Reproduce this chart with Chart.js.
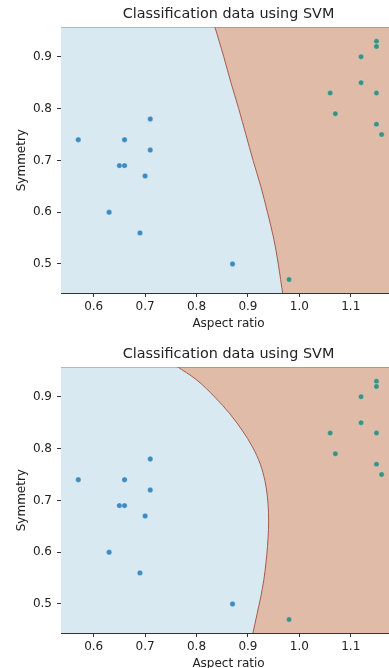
<!DOCTYPE html>
<html>
<head>
<meta charset="utf-8">
<script src="https://cdn.jsdelivr.net/npm/chart.js@4"></script>
<style>
  html, body { margin: 0; padding: 0; background: #ffffff; overflow: hidden; width: 389px; height: 668px; }
  .wrap { position: absolute; left: 0; width: 457px; height: 340px; }
  #w1 { top: 0; }
  #w2 { top: 340px; }
</style>
</head>
<body>
<div class="wrap" id="w1"><canvas id="c1" width="457" height="340"></canvas></div>
<div class="wrap" id="w2"><canvas id="c2" width="457" height="340"></canvas></div>
<script>
// ---- Data ----
const chartTitle = 'Classification data using SVM';
const xLabel = 'Aspect ratio';
const yLabel = 'Symmetry';

// class 0 (blue)
const class0X = [0.57, 0.66, 0.71, 0.71, 0.65, 0.66, 0.70, 0.63, 0.69, 0.87];
const class0Y = [0.74, 0.74, 0.78, 0.72, 0.69, 0.69, 0.67, 0.60, 0.56, 0.50];
// class 1 (green)
const class1X = [1.15, 1.15, 1.12, 1.12, 1.06, 1.15, 1.07, 1.15, 1.16, 0.98];
const class1Y = [0.93, 0.92, 0.90, 0.85, 0.83, 0.83, 0.79, 0.77, 0.75, 0.47];

// decision boundary, top panel
const boundary1Y = [0.440, 0.500, 0.550, 0.600, 0.650, 0.700, 0.750, 0.800, 0.850, 0.900, 0.960];
const boundary1X = [0.968, 0.959, 0.950, 0.938, 0.925, 0.910, 0.896, 0.882, 0.867, 0.853, 0.835];

// decision boundary, bottom panel
const boundary2Y = [0.440, 0.482, 0.514, 0.547, 0.579, 0.611, 0.644, 0.676, 0.706, 0.738, 0.770, 0.803, 0.835, 0.867, 0.899, 0.932, 0.960];
const boundary2X = [0.909, 0.918, 0.925, 0.931, 0.935, 0.938, 0.940, 0.940, 0.938, 0.933, 0.924, 0.909, 0.889, 0.865, 0.836, 0.801, 0.760];

// axis limits
const X_MIN = 0.5364, X_MAX = 1.188;
const Y_MIN = 0.444, Y_MAX = 0.957;

// ---- Styles ----
const BLUE_BG = '#d9e9f2';
const TAN_BG = '#dfbba8';
const BOUNDARY = '#a45a50';
const BLUE_PT = '#3a8cc3';
const GREEN_PT = '#3d9180';
const AXIS = '#333333';
const TEXT = '#222222';

Chart.defaults.font.family = "'DejaVu Sans', sans-serif";

function pts(xs, ys) { return xs.map((x, i) => ({x: x, y: ys[i]})); }

function makeChart(id, bx, by) {
  const boundary = pts(bx, by);
  return new Chart(document.getElementById(id), {
    type: 'line',
    data: {
      datasets: [
        { data: pts(class0X, class0Y), showLine: false, pointRadius: 2.7, pointBackgroundColor: BLUE_PT,
          pointBorderColor: 'rgba(255,255,255,0.55)', pointBorderWidth: 0.5, fill: false },
        { data: pts(class1X, class1Y), showLine: false, pointRadius: 2.7, pointBackgroundColor: GREEN_PT,
          pointBorderColor: 'rgba(255,255,255,0.55)', pointBorderWidth: 0.5, fill: false },
        { data: boundary, indexAxis: 'y', pointRadius: 0, borderColor: BOUNDARY, borderWidth: 1,
          backgroundColor: TAN_BG, fill: {value: X_MAX + 1}, tension: 0.35 },
        { data: boundary, indexAxis: 'y', pointRadius: 0, borderWidth: 0, borderColor: 'rgba(0,0,0,0)',
          backgroundColor: BLUE_BG, fill: {value: X_MIN - 1}, tension: 0.35 }
      ]
    },
    options: {
      animation: false,
      responsive: false,
      indexAxis: 'y',
      layout: { padding: 0 },
      plugins: {
        legend: { display: false },
        tooltip: { enabled: false },
        title: { display: true, text: chartTitle, color: TEXT,
                 font: { size: 14.4, weight: 'normal' }, padding: { top: 6, bottom: 4 } }
      },
      scales: {
        x: {
          type: 'linear', position: 'bottom', min: X_MIN, max: X_MAX,
          afterFit: s => { s.height = 47; },
          ticks: { stepSize: 0.1, includeBounds: false, autoSkip: false, maxRotation: 0,
                   callback: v => Number(v).toFixed(1), color: TEXT, font: { size: 12 }, padding: 3 },
          grid: { drawOnChartArea: false, drawTicks: true, tickLength: 4, color: AXIS, tickWidth: 1 },
          border: { display: true, color: AXIS, width: 1 },
          title: { display: true, text: xLabel, color: TEXT, font: { size: 12 }, padding: { top: 0, bottom: 9 } }
        },
        y: {
          type: 'linear', position: 'left', min: Y_MIN, max: Y_MAX,
          afterFit: s => { s.width = 61; },
          ticks: { stepSize: 0.1, includeBounds: false, autoSkip: false,
                   callback: v => Number(v).toFixed(1), color: TEXT, font: { size: 12 }, padding: 5 },
          grid: { drawOnChartArea: false, drawTicks: true, tickLength: 4, color: AXIS, tickWidth: 1 },
          border: { display: true, color: AXIS, width: 1 },
          title: { display: true, text: yLabel, color: TEXT, font: { size: 12 }, padding: { top: 15, bottom: 0 } }
        },
        x2: {
          type: 'linear', position: 'top', display: true,
          afterFit: s => { s.height = 0; },
          ticks: { display: false },
          grid: { display: false, drawTicks: false },
          border: { display: true, color: AXIS, width: 1 }
        },
        y2: {
          type: 'linear', position: 'right', display: true,
          afterFit: s => { s.width = 61; },
          ticks: { display: false },
          grid: { display: false, drawTicks: false },
          border: { display: true, color: AXIS, width: 1 }
        }
      }
    }
  });
}

makeChart('c1', boundary1X, boundary1Y);
makeChart('c2', boundary2X, boundary2Y);
</script>
</body>
</html>
